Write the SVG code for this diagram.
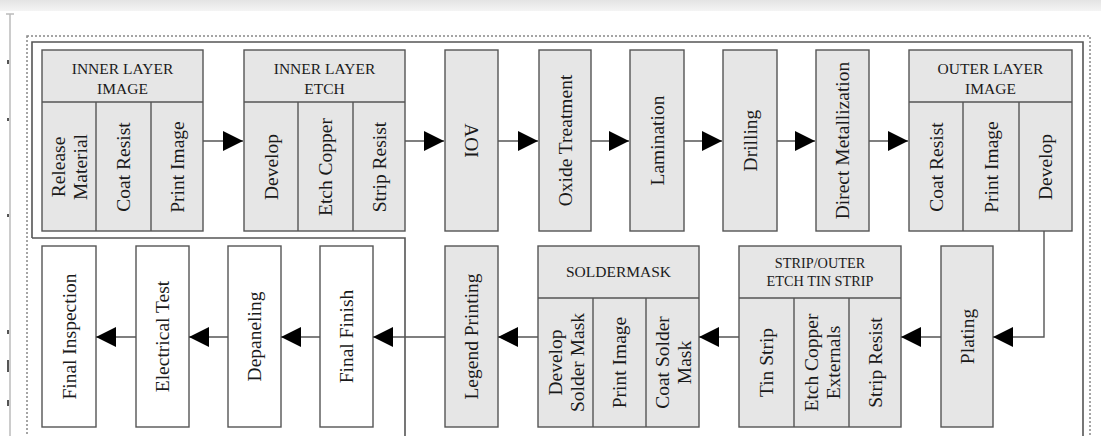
<svg xmlns="http://www.w3.org/2000/svg" width="1101" height="436" viewBox="0 0 1101 436">
<defs>
<linearGradient id="topband" x1="0" y1="0" x2="0" y2="1">
<stop offset="0" stop-color="#e4e4e4"/><stop offset="1" stop-color="#f4f4f4"/>
</linearGradient>
<marker id="ah" markerUnits="userSpaceOnUse" markerWidth="20" markerHeight="20" viewBox="0 0 18 18" refX="18" refY="9" orient="auto">
<path d="M0,0 L18,9 L0,18 Z" fill="#000"/>
</marker>
<style>
.box{fill:#e6e6e6;stroke:#555;stroke-width:1.4}
.wbox{fill:#fff;stroke:#555;stroke-width:1.4}
.conn{fill:none;stroke:#555;stroke-width:1.4;marker-end:url(#ah)}
.t{font-family:"Liberation Serif","Times New Roman",serif;font-size:19.5px;fill:#1a1a1a;text-anchor:middle;dominant-baseline:central}
.h{font-family:"Liberation Serif","Times New Roman",serif;font-size:15.5px;fill:#1a1a1a;text-anchor:middle}
.hs{font-family:"Liberation Serif","Times New Roman",serif;font-size:14.3px;fill:#1a1a1a;text-anchor:middle}
.frame{fill:none;stroke:#555;stroke-width:1.6}
.dots{fill:none;stroke:#888;stroke-width:1.5;stroke-dasharray:2 2}
</style>
</defs>
<rect x="0" y="0" width="1101" height="436" fill="#fff"/>
<rect x="0" y="0" width="1101" height="11" fill="url(#topband)"/>
<g id="page-artifacts" stroke="#999" fill="none">
<path d="M10,14 V436" stroke-width="1"/>
<path d="M6,14 H14" stroke-width="1.5" stroke="#bbb"/>
<path d="M8,60 V64 M8,118 V121 M8,214 V217 M8,330 V334 M8,360 V372 M8,400 V406" stroke="#555" stroke-width="2"/>
</g>
<g id="frames">
<rect class="dots" x="27" y="36" width="1063" height="410"/>
<path class="frame" d="M32,238 V42 H1083 V440 M32,238 H405 V440"/>
</g>

<g id="inner-layer-image">
<rect class="box" x="42" y="50" width="161" height="181"/>
<path class="box" d="M42,102 H203 M96,102 V231 M151,102 V231"/>
<text class="h" x="122.5" y="74">INNER LAYER</text>
<text class="h" x="122.5" y="94">IMAGE</text>
<text class="t" transform="translate(69,167) rotate(-90)"><tspan x="0" y="-11">Release</tspan><tspan x="0" y="11">Material</tspan></text>
<text class="t" transform="translate(123.5,167) rotate(-90)">Coat Resist</text>
<text class="t" transform="translate(177,167) rotate(-90)">Print Image</text>
</g>

<g id="inner-layer-etch">
<rect class="box" x="244" y="50" width="161" height="181"/>
<path class="box" d="M244,102 H405 M298,102 V231 M353,102 V231"/>
<text class="h" x="324.5" y="74">INNER LAYER</text>
<text class="h" x="324.5" y="94">ETCH</text>
<text class="t" transform="translate(271,167) rotate(-90)">Develop</text>
<text class="t" transform="translate(325.5,167) rotate(-90)">Etch Copper</text>
<text class="t" transform="translate(379,167) rotate(-90)">Strip Resist</text>
</g>

<g id="aoi">
<rect class="box" x="445" y="50" width="53" height="181"/>
<text class="t" transform="translate(471.5,140.5) rotate(90)">AOI</text>
</g>
<g id="oxide-treatment">
<rect class="box" x="539" y="50" width="52" height="181"/>
<text class="t" transform="translate(565,140.5) rotate(-90)">Oxide Treatment</text>
</g>
<g id="lamination">
<rect class="box" x="630" y="50" width="54" height="181"/>
<text class="t" transform="translate(657,140.5) rotate(-90)">Lamination</text>
</g>
<g id="drilling">
<rect class="box" x="723" y="50" width="54" height="181"/>
<text class="t" transform="translate(750,140.5) rotate(-90)">Drilling</text>
</g>
<g id="direct-metalization">
<rect class="box" x="816" y="50" width="53" height="181"/>
<text class="t" transform="translate(842.5,140.5) rotate(-90)">Direct Metallization</text>
</g>

<g id="outer-layer-image">
<rect class="box" x="909" y="50" width="163" height="181"/>
<path class="box" d="M909,102 H1072 M963,102 V231 M1019,102 V231"/>
<text class="h" x="990.5" y="74">OUTER LAYER</text>
<text class="h" x="990.5" y="94">IMAGE</text>
<text class="t" transform="translate(936,167) rotate(-90)">Coat Resist</text>
<text class="t" transform="translate(991,167) rotate(-90)">Print Image</text>
<text class="t" transform="translate(1045.5,167) rotate(-90)">Develop</text>
</g>

<g id="plating">
<rect class="box" x="941" y="246" width="52" height="181"/>
<text class="t" transform="translate(967,336.5) rotate(-90)">Plating</text>
</g>

<g id="strip-outer-etch">
<rect class="box" x="739" y="246" width="162" height="181"/>
<path class="box" d="M739,298 H901 M794,298 V427 M849,298 V427"/>
<text class="hs" x="820" y="268">STRIP/OUTER</text>
<text class="hs" x="820" y="286">ETCH TIN STRIP</text>
<text class="t" transform="translate(766.5,362.5) rotate(-90)">Tin Strip</text>
<text class="t" transform="translate(821.5,362.5) rotate(-90)"><tspan x="0" y="-11">Etch Copper</tspan><tspan x="0" y="11">Externals</tspan></text>
<text class="t" transform="translate(875,362.5) rotate(-90)">Strip Resist</text>
</g>

<g id="soldermask">
<rect class="box" x="538" y="246" width="161" height="181"/>
<path class="box" d="M538,298 H699 M593,298 V427 M646,298 V427"/>
<text class="h" x="618.5" y="277">SOLDERMASK</text>
<text class="t" transform="translate(565.5,362.5) rotate(-90)"><tspan x="0" y="-11">Develop</tspan><tspan x="0" y="11">Solder Mask</tspan></text>
<text class="t" transform="translate(619.5,362.5) rotate(-90)">Print Image</text>
<text class="t" transform="translate(672.5,362.5) rotate(-90)"><tspan x="0" y="-11">Coat Solder</tspan><tspan x="0" y="11">Mask</tspan></text>
</g>

<g id="legend-printing">
<rect class="box" x="445" y="246" width="53" height="181"/>
<text class="t" transform="translate(471.5,336.5) rotate(-90)">Legend Printing</text>
</g>

<g id="final-finish">
<rect class="wbox" x="320" y="246" width="53" height="181"/>
<text class="t" transform="translate(346.5,336.5) rotate(-90)">Final Finish</text>
</g>
<g id="depaneling">
<rect class="wbox" x="228" y="246" width="53" height="181"/>
<text class="t" transform="translate(254.5,336.5) rotate(-90)">Depaneling</text>
</g>
<g id="electrical-test">
<rect class="wbox" x="136" y="246" width="53" height="181"/>
<text class="t" transform="translate(162.5,336.5) rotate(-90)">Electrical Test</text>
</g>
<g id="final-inspection">
<rect class="wbox" x="42" y="246" width="54" height="181"/>
<text class="t" transform="translate(69,336.5) rotate(-90)">Final Inspection</text>
</g>

<g id="connectors">
<path class="conn" d="M203,141 H243"/>
<path class="conn" d="M405,141 H444"/>
<path class="conn" d="M498,141 H538"/>
<path class="conn" d="M591,141 H629"/>
<path class="conn" d="M684,141 H722"/>
<path class="conn" d="M777,141 H815"/>
<path class="conn" d="M869,141 H908"/>
<path class="conn" d="M1044,231 V337 H993"/>
<path class="conn" d="M941,337 H901"/>
<path class="conn" d="M739,337 H699"/>
<path class="conn" d="M538,337 H498"/>
<path class="conn" d="M445,337 H373"/>
<path class="conn" d="M320,337 H281"/>
<path class="conn" d="M228,337 H189"/>
<path class="conn" d="M136,337 H96"/>
</g>
</svg>
